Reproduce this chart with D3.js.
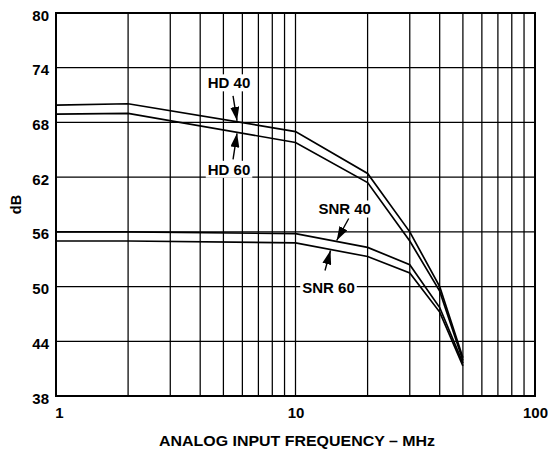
<!DOCTYPE html>
<html>
<head>
<meta charset="utf-8">
<script src="https://cdn.jsdelivr.net/npm/d3@7"></script>
<style>
  html, body { margin: 0; padding: 0; background: #fff; }
  svg { display: block; font-family: "Liberation Sans", Arial, Helvetica, sans-serif; font-weight: bold; }
</style>
</head>
<body>
<svg id="chart" width="548" height="452"></svg>
<script>
// ---- data ----
const freqHD = [1, 2, 10, 20, 30, 40, 50];
const hd40 = [69.9, 70.05, 67.0, 62.4, 56.0, 50.0, 42.2];
const hd60 = [68.9, 69.0, 65.8, 61.4, 55.0, 49.5, 41.9];
const freqSNR = [1, 2, 10, 20, 30, 40, 50];
const snr40 = [56.0, 56.0, 55.8, 54.3, 52.4, 47.7, 41.6];
const snr60 = [55.0, 55.0, 54.8, 53.3, 51.5, 47.2, 41.3];
const yTicks = [38, 44, 50, 56, 62, 68, 74, 80];
const xTickLabels = [1, 10, 100];
const xGrid = [2, 3, 4, 5, 6, 7, 8, 9, 10, 20, 30, 40, 50, 60, 70, 80, 90];
const xTitle = "ANALOG INPUT FREQUENCY – MHz";
const yTitle = "dB";
const annotations = [
  { text: "HD 40", series: "hd40", f: 5.7, side: "above" },
  { text: "HD 60", series: "hd60", f: 5.7, side: "below" },
  { text: "SNR 40", series: "snr40", f: 14.86, side: "above" },
  { text: "SNR 60", series: "snr60", f: 14.0, side: "below" }
];

(function () {
const svg = d3.select("#chart");
const pL = 56, pR = 535, pT = 13, pB = 396;
const x = d3.scaleLog().domain([1, 100]).range([pL, pR]);
const y = d3.scaleLinear().domain([38, 80]).range([pB, pT]);

// grid
const g = svg.append("g");
g.selectAll(".hgrid").data(yTicks.slice(1, -1)).enter().append("line")
  .attr("x1", pL).attr("x2", pR)
  .attr("y1", d => y(d)).attr("y2", d => y(d))
  .attr("stroke", "#000").attr("stroke-width", 1.25);
g.selectAll(".vgrid").data(xGrid).enter().append("line")
  .attr("y1", pT).attr("y2", pB)
  .attr("x1", d => x(d)).attr("x2", d => x(d))
  .attr("stroke", "#000").attr("stroke-width", 1.25);

// axes tick labels
const yAxis = d3.axisLeft(y).tickValues(yTicks).tickSize(0).tickPadding(7);
const ya = svg.append("g").attr("transform", `translate(${pL},0)`).call(yAxis);
ya.select(".domain").remove();
ya.selectAll("text").attr("font-size", 15).attr("font-weight", "bold")
  .attr("font-family", "Liberation Sans, Arial, sans-serif").attr("fill", "#000")
  .attr("dy", "0.47em");

const xAxis = d3.axisBottom(x).tickValues(xTickLabels).tickFormat(d3.format("d")).tickSize(0).tickPadding(11);
const xa = svg.append("g").attr("transform", `translate(0,${pB})`).call(xAxis);
xa.select(".domain").remove();
xa.selectAll("text").attr("font-size", 15).attr("font-weight", "bold")
  .attr("font-family", "Liberation Sans, Arial, sans-serif").attr("fill", "#000")
  .attr("dx", (d, i) => i === 0 ? 3 : 0);

// frame
svg.append("rect").attr("x", pL).attr("y", pT)
  .attr("width", pR - pL).attr("height", pB - pT)
  .attr("fill", "none").attr("stroke", "#000").attr("stroke-width", 2);

// curves
const series = {
  hd40: freqHD.map((f, i) => [f, hd40[i]]),
  hd60: freqHD.map((f, i) => [f, hd60[i]]),
  snr40: freqSNR.map((f, i) => [f, snr40[i]]),
  snr60: freqSNR.map((f, i) => [f, snr60[i]])
};
const line = d3.line().x(d => x(d[0])).y(d => y(d[1]));
Object.values(series).forEach(s => {
  svg.append("path").attr("d", line(s)).attr("fill", "none")
    .attr("stroke", "#000").attr("stroke-width", 1.7).attr("stroke-linejoin", "miter");
});

function valueAt(s, f) {
  const lf = Math.log10(f);
  for (let i = 0; i < s.length - 1; i++) {
    const a = Math.log10(s[i][0]), b = Math.log10(s[i + 1][0]);
    if (lf >= a && lf <= b) {
      const t = (lf - a) / (b - a);
      return s[i][1] + t * (s[i + 1][1] - s[i][1]);
    }
  }
  return s[s.length - 1][1];
}

// annotations
const defs = svg.append("defs");
defs.append("marker").attr("id", "ah").attr("viewBox", "0 0 14 9")
  .attr("refX", 14).attr("refY", 4.5).attr("markerWidth", 14).attr("markerHeight", 9)
  .attr("markerUnits", "userSpaceOnUse").attr("orient", "auto")
  .append("path").attr("d", "M0,0 L14,4.5 L0,9 Z").attr("fill", "#000");

const labelOffsets = {
  hd40: { dx: -8, dy: -38, lx: -4, ly: -25 },
  hd60: { dx: -8, dy: 36, lx: -4, ly: 26 },
  snr40: { dx: 8, dy: -31.5, lx: 12, ly: -22 },
  snr60: { dx: -2, dy: 37, lx: -5.5, ly: 20 }
};
annotations.forEach(a => {
  const s = series[a.series];
  const tx = x(a.f), ty = y(valueAt(s, a.f)) + (a.side === "above" ? -1 : 1);
  const o = labelOffsets[a.series];
  const cx = tx + o.dx, cy = ty + o.dy;
  const t = svg.append("text").attr("x", cx).attr("y", cy)
    .attr("text-anchor", "middle").attr("dominant-baseline", "central")
    .attr("font-size", 15).attr("font-weight", "bold").attr("fill", "#000").text(a.text);
  const bb = t.node().getBBox();
  svg.insert("rect", () => t.node()).attr("x", bb.x - 2).attr("y", bb.y)
    .attr("width", bb.width + 4).attr("height", bb.height).attr("fill", "#fff");
  svg.append("line").attr("x1", tx + o.lx).attr("y1", ty + o.ly)
    .attr("x2", tx).attr("y2", ty)
    .attr("stroke", "#000").attr("stroke-width", 1.4).attr("marker-end", "url(#ah)");
});

// titles
svg.append("text").attr("x", 297).attr("y", 446).attr("text-anchor", "middle")
  .attr("font-size", 15).attr("font-weight", "bold").attr("fill", "#000")
  .attr("textLength", 276).attr("lengthAdjust", "spacingAndGlyphs").text(xTitle);
svg.append("text").attr("transform", `translate(21,${(pT + pB) / 2}) rotate(-90)`)
  .attr("text-anchor", "middle").attr("font-size", 14.5).attr("font-weight", "bold")
  .attr("fill", "#000").text(yTitle);
})();
</script>
</body>
</html>
